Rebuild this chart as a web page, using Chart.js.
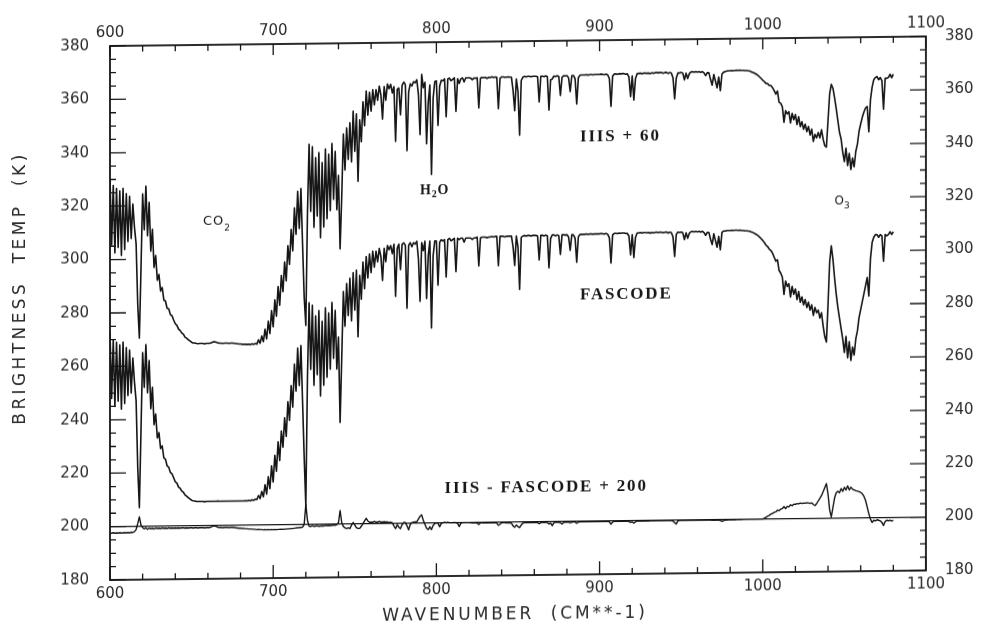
<!DOCTYPE html>
<html>
<head>
<meta charset="utf-8">
<title>Brightness temperature spectrum</title>
<script src="https://cdn.jsdelivr.net/npm/chart.js@4.4.1/dist/chart.umd.min.js"></script>
<style>
  html, body { margin: 0; padding: 0; background: #fff; }
  #spectrum { display: block; transform: skewY(-0.67deg); transform-origin: 110px 0; }
</style>
</head>
<body>
<canvas id="spectrum" width="985" height="627"></canvas>
<script>
// brightness temperature samples, 1 cm-1 apart, first sample at 600 cm-1
const firstWavenumber = 600;

// FASCODE calculated spectrum (K)
const fascode = [
  273, 248, 270, 245, 269, 247, 268, 244, 269, 246,            // 600
  267, 249, 266, 250, 263, 254, 247, 222, 207, 236,            // 610
  265, 252, 268, 250, 262, 244, 252, 238, 242, 233,            // 620
  235, 229, 230, 225.5, 225, 222.5, 222, 220, 219.5, 218,      // 630
  216.5, 216, 214.5, 214, 213, 212.5, 211.5, 211, 210.5, 210,  // 640
  209.5, 209.3, 209.2, 209, 209, 209, 209, 209, 208.9, 209,    // 650
  209, 209, 209, 209, 209, 209, 209.1, 209, 209, 209,          // 660
  209, 209, 209, 209, 209, 209, 209, 209, 209, 209,            // 670
  209, 209, 209, 209.1, 209, 209.2, 209, 209.4, 209.2, 209.6,  // 680
  209.5, 211, 209.8, 212.5, 210.5, 215, 211.5, 218, 213.5, 222, // 690
  216, 226, 220, 231, 224, 235, 229, 240, 233, 246,            // 700
  239, 252, 244, 260, 250, 266, 252, 267, 246, 225,            // 710
  207, 255, 283, 258, 282, 252, 278, 256, 280, 248,            // 720
  276, 252, 281, 255, 279, 258, 283, 262, 280, 258,            // 730
  270, 238, 262, 287, 274, 290, 278, 292, 276, 294,            // 740
  280, 295, 270, 293, 284, 298, 288, 300, 292, 301,            // 750
  294, 302, 296, 302, 298, 303, 300, 291, 303, 298,            // 760
  304, 302.5, 304, 301, 304.5, 285, 303, 304.5, 295, 304.5,    // 770
  305, 304, 280.5, 304, 305, 303.5, 305, 304.5, 305.5, 299,    // 780
  283, 305, 302, 305.5, 284, 300, 305.5, 273, 300, 305.5,      // 790
  305.5, 289, 305, 306, 305.5, 306, 292, 306, 306.5, 305.5,    // 800
  306, 306.5, 294, 306.5, 306, 306.5, 306.5, 305, 306.5, 306.5, // 810
  306.5, 306.5, 306, 306.5, 306.5, 306.8, 296, 306.5, 306.8, 306.8, // 820
  306.8, 306.5, 306.8, 306.8, 307, 306.8, 307, 307, 296, 307,  // 830
  307, 307, 306.8, 307, 307, 307, 307, 303, 296, 307,          // 840
  303, 287, 306.5, 307, 307.2, 307, 307.2, 307.2, 307, 307.2,  // 850
  307.2, 307.2, 307, 298, 307.2, 307.2, 307, 307.3, 307, 295,  // 860
  306, 307.3, 307.3, 307, 307.3, 307, 300, 307.3, 307.3, 307.2, // 870
  307.3, 306.5, 301.5, 307.3, 307.2, 306, 297, 306.5, 307.3, 307.4, // 880
  307.4, 307.4, 307.5, 307.3, 307.5, 307.5, 307.4, 307.5, 307.5, 307.5, // 890
  307.5, 307.6, 307.5, 307.4, 307.6, 307.3, 306, 296.5, 307, 307.6, // 900
  307.6, 307.5, 307.7, 307.6, 307.7, 307.7, 307.5, 307.6, 306.5, 299.5, // 910
  307, 298.5, 306, 307.6, 307.7, 307.8, 307.6, 307.8, 307.8, 307.7, // 920
  307.8, 307.5, 307.8, 307.6, 307.8, 307.9, 307.7, 307.9, 307.8, 307.6, // 930
  307.8, 307.9, 307.5, 307.8, 307.6, 306, 298.7, 307, 307.8, 307.6, // 940
  307.8, 307.5, 305, 307.5, 305.5, 307.3, 307.9, 308, 307.8, 308, // 950
  307.8, 308, 307.7, 308, 307.5, 306.5, 307.6, 307.5, 305, 303, // 960
  307, 304.5, 302, 306, 301, 307.5, 308, 308, 308.2, 308.2,    // 970
  308.2, 308.3, 308.2, 308.3, 308.3, 308.2, 308.3, 308.2, 308.1, 308, // 980
  308, 307.9, 307.8, 307.5, 307.3, 307, 306.6, 306.2, 305.6, 305, // 990
  304.3, 303.5, 302.5, 302, 301, 300.5, 299.5, 298, 296.5, 297, // 1000
  293, 292, 290.5, 284, 289, 287, 288, 283, 287, 284,          // 1010
  286, 282, 285, 281, 283, 280, 282, 279, 281, 278,            // 1020
  280, 276, 279, 277, 278, 275, 277, 272, 268, 266,            // 1030
  280, 296, 302, 297, 290, 284, 279, 275, 271, 267,            // 1040
  262, 268, 260, 266, 259, 264, 261, 267, 270, 275,            // 1050
  278, 281, 284, 287, 290, 283, 297, 303, 305, 306,            // 1060
  306, 305, 306, 305.5, 296, 306, 305.5, 306, 307, 306, 307    // 1070-1080
];

// HIS minus FASCODE (K), same grid
const hisMinusFascode = [
  -2.5, -2.5, -2.3, -2.5, -2.4, -2.5, -2.3, -2.5, -2.4, -2.3,  // 600
  -2.4, -2.3, -2.4, -2.2, -2.3, -2, -1.2, 1, 3.5, 0.5,         // 610
  -0.5, -1, -0.6, -1.2, -0.7, -1, -0.8, -1.1, -0.7, -0.9,      // 620
  -0.8, -1, -0.7, -0.9, -0.8, -1, -0.7, -0.9, -0.8, -0.9,      // 630
  -0.8, -0.9, -0.8, -0.9, -0.8, -0.8, -0.9, -0.8, -0.9, -0.8,  // 640
  -0.8, -0.9, -0.8, -0.8, -0.9, -0.8, -0.8, -0.8, -0.9, -0.8,  // 650
  -0.8, -0.8, -0.6, -0.3, -0.2, -0.4, -0.7, -0.8, -0.8, -0.9,  // 660
  -0.8, -0.8, -0.8, -0.9, -0.8, -0.8, -0.9, -1, -1.1, -1.2,    // 670
  -1.2, -1.3, -1.3, -1.4, -1.4, -1.5, -1.5, -1.6, -1.6, -1.7,  // 680
  -1.8, -1.7, -1.8, -1.8, -1.9, -1.8, -1.9, -1.8, -1.9, -1.8,  // 690
  -1.9, -1.8, -1.9, -1.8, -1.8, -1.7, -1.8, -1.7, -1.7, -1.6,  // 700
  -1.6, -1.5, -1.5, -1.4, -1.3, -1.3, -1.2, -1.2, -1, 0,       // 710
  7.5, 1.5, -0.7, -0.8, -0.6, -0.8, -0.7, -0.6, -0.8, -0.7,    // 720
  -0.6, -0.7, -0.5, -0.6, -0.5, -0.6, -0.5, -0.4, -0.5, -0.3,  // 730
  0.5, 5, 0.5, -1, -1.5, -1.8, -1.5, -1.8, -0.5, 0.5,          // 740
  -0.5, -1.5, -1.8, -1.8, -1, 0, 1, 2, 1, 0.5,                 // 750
  0.5, 0.5, 0.8, 0.5, 0.5, 0.8, 0.5, 0.5, 0.6, 0.5,            // 760
  0.5, 0.3, 0.4, 0.2, -1, -2, -0.5, -1.5, -2, -0.5,            // 770
  0.2, 0.2, -1, -2.5, -0.5, 0.2, 0.3, 0.4, 0.5, 1.5,           // 780
  2.5, 3, 1, -0.5, -2, -2.5, -1.5, -2.5, -1, -0.3,             // 790
  0, -0.2, -1.5, -0.3, 0, 0.2, 0, 0.2, 0, 0,                   // 800
  0, 0.1, 0, -0.3, -1.5, -0.3, 0, 0, 0, 0,                     // 810
  0, -0.1, -0.2, -0.1, -0.2, -0.3, -0.8, -0.2, -0.2, -0.3,     // 820
  -0.2, -0.3, -0.2, -0.3, -0.2, -0.3, -0.3, -0.4, -1.2, -0.8,  // 830
  -0.3, -0.3, -0.3, -0.4, -0.3, -0.4, -0.5, -1.5, -2, -1.2,    // 840
  -1.8, -2.2, -1.2, -0.5, -0.4, -0.4, -0.4, -0.4, -0.4, -0.4,  // 850
  -0.4, -0.4, -0.4, -0.8, -0.4, -0.4, -0.4, -0.4, -0.4, -0.9,  // 860
  -0.6, -1.6, -0.5, -0.4, -0.4, -0.4, -0.5, -1, -0.4, -0.4,    // 870
  -0.4, -0.4, -0.6, -0.4, -0.3, -0.3, -0.8, -0.4, -0.3, -0.3,  // 880
  -0.3, -0.3, -0.3, -0.3, -0.3, -0.3, -0.3, -0.3, -0.3, -0.3,  // 890
  -0.3, -0.3, -0.3, -0.3, -0.3, -0.3, -0.4, -1.3, -0.5, -0.3,  // 900
  -0.3, -0.3, -0.3, -0.3, -0.3, -0.3, -0.3, -0.3, -0.4, -0.7,  // 910
  -0.5, -1, -0.5, -0.3, -0.3, -0.3, -0.3, -0.3, -0.3, -0.3,    // 920
  -0.3, -0.2, -0.2, -0.2, -0.2, -0.2, -0.2, -0.2, -0.2, -0.2,  // 930
  -0.2, -0.2, -0.2, -0.2, -0.2, -0.4, -1, -1.5, -0.4, -0.2,    // 940
  -0.2, -0.2, -0.2, -0.2, -0.2, -0.2, -0.2, -0.2, -0.2, -0.2,  // 950
  -0.2, -0.2, -0.2, -0.2, -0.2, -0.2, -0.2, -0.2, -0.2, -0.3,  // 960
  -0.3, -0.3, -0.3, -0.3, -0.4, -0.7, -0.5, -0.3, -0.3, -0.2,  // 970
  -0.2, -0.2, -0.2, -0.2, -0.1, -0.1, -0.1, -0.1, 0, 0,        // 980
  0, 0, 0, 0, 0, 0, 0, 0, 0, 0,                                // 990
  0, 0.3, 0.6, 1, 1.3, 1.8, 2, 2.4, 2.6, 3.2,                  // 1000
  3, 3.6, 3.8, 4.5, 3.8, 4.6, 4.4, 5.2, 4.8, 5.4,              // 1010
  5.3, 5.6, 5.5, 5.8, 5.6, 5.8, 5.7, 5.9, 5.8, 5.6,            // 1020
  5.8, 5.2, 4.8, 5.5, 6.5, 7.5, 8.5, 10, 11.5, 13,             // 1030
  9, 3, 0.5, 4, 7.5, 9.5, 10, 9.5, 11, 10,                     // 1040
  11.5, 10.5, 12, 10.5, 11.5, 10.8, 10.5, 10.2, 10, 9.8,       // 1050
  9.5, 9, 8, 6.5, 4, 1.5, -0.5, -1.8, -1, -1.2,                // 1060
  -0.8, -1, -1.2, -1.8, -3, -1.5, -1, -1.2, -1, -1.3, -1       // 1070-1080
];

// offsets named in the curve labels
const hisOffset = 60;
const diffOffset = 200;

// zero-difference reference line
const zeroLineWavenumbers = [600, 1100];
const zeroLineKelvin = [200, 200];

const xTickValues = [600, 700, 800, 900, 1000, 1100];
const yTickValues = [180, 200, 220, 240, 260, 280, 300, 320, 340, 360, 380];

const ink = '#161616';
const tickFont = { family: 'DejaVu Sans', size: 15 };
const labelSerif = 'bold 17px "Liberation Serif"';

// text drawn inside the plot, anchored at [wavenumber, kelvin]
const notes = [
  { at: [888, 344], parts: [['IIIS + 60']], font: labelSerif, spacing: '1.8px' },
  { at: [888, 284.7], parts: [['FASCODE']], font: labelSerif, spacing: '1.8px' },
  { at: [805, 212.6], parts: [['IIIS - FASCODE + 200']], font: labelSerif, spacing: '1.8px' },
  { at: [657, 314], parts: [['CO'], ['2', 7]], font: '13px "DejaVu Sans"', sub: '9px "DejaVu Sans"', spacing: '1px' },
  { at: [790, 324.5], parts: [['H'], ['2', 4.5], ['O']], font: 'bold 14px "Liberation Serif"', sub: 'bold 10px "Liberation Serif"', spacing: '0.8px' },
  { at: [1044, 318.8], parts: [['O'], ['3', 5]], font: '12px "DejaVu Sans"', sub: '9px "DejaVu Sans"', spacing: '0px' }
];

const wavenumber = fascode.map((_, i) => firstWavenumber + i);

const hisCurve = fascode.map((t, i) => ({ x: wavenumber[i], y: t + hisMinusFascode[i] + hisOffset }));
const fascodeCurve = fascode.map((t, i) => ({ x: wavenumber[i], y: t }));
const diffCurve = hisMinusFascode.map((d, i) => ({ x: wavenumber[i], y: d + diffOffset }));
const zeroLine = zeroLineWavenumbers.map((w, i) => ({ x: w, y: zeroLineKelvin[i] }));

function trace(label, data, width) {
  return {
    label, data,
    borderColor: ink, borderWidth: width,
    borderJoinStyle: 'round',
    pointRadius: 0, fill: false, tension: 0
  };
}

// inward tick marks, frame, in-plot labels and axis titles
const plotFrame = {
  id: 'plotFrame',
  afterDraw(chart) {
    const { ctx, chartArea: a } = chart;
    const x = chart.scales.x, y = chart.scales.y;
    ctx.save();
    ctx.strokeStyle = ink;
    ctx.lineWidth = 1.3;
    ctx.beginPath();
    for (let v = 600; v <= 1100; v += 20) {
      const px = x.getPixelForValue(v);
      const major = v % 100 === 0;
      ctx.moveTo(px, a.bottom); ctx.lineTo(px, a.bottom - (major ? 13 : 6));
      ctx.moveTo(px, a.top); ctx.lineTo(px, a.top + (major ? 11 : 6));
    }
    for (let v = 180; v <= 380; v += 5) {
      const py = y.getPixelForValue(v);
      const major = v % 20 === 0;
      ctx.moveTo(a.left, py); ctx.lineTo(a.left + (major ? 16 : 6), py);
      ctx.moveTo(a.right, py); ctx.lineTo(a.right - (major ? 16 : 6), py);
    }
    ctx.stroke();
    ctx.lineWidth = 1.8;
    ctx.strokeRect(a.left, a.top, a.right - a.left, a.bottom - a.top);

    ctx.fillStyle = ink;
    ctx.textAlign = 'left';
    ctx.textBaseline = 'middle';
    for (const n of notes) {
      let cx = x.getPixelForValue(n.at[0]);
      const cy = y.getPixelForValue(n.at[1]);
      for (const [txt, drop] of n.parts) {
        ctx.font = drop ? n.sub : n.font;
        ctx.letterSpacing = n.spacing;
        ctx.fillText(txt, cx, drop ? cy + drop : cy);
        cx += ctx.measureText(txt).width;
      }
    }

    ctx.fillStyle = '#2a2a2a';
    ctx.font = '17px "DejaVu Sans"';
    ctx.textAlign = 'center';
    ctx.letterSpacing = '2.9px';
    ctx.fillText('WAVENUMBER  (CM**-1)', 515, 620);
    ctx.translate(21, 287);
    ctx.rotate(-Math.PI / 2);
    ctx.letterSpacing = '3.4px';
    ctx.fillText('BRIGHTNESS  TEMP  (K)', 0, 0);
    ctx.restore();
  }
};

function axis(position, min, max, values, padding, fit) {
  return {
    type: 'linear', position, min, max,
    afterBuildTicks(s) { s.ticks = values.map(v => ({ value: v })); },
    afterFit: fit,
    ticks: {
      font: tickFont, color: '#2a2a2a', padding, autoSkip: false, maxRotation: 0,
      callback: v => String(v)
    },
    grid: { display: false, drawTicks: false },
    border: { display: false }
  };
}

new Chart(document.getElementById('spectrum'), {
  type: 'line',
  data: {
    datasets: [
      trace('IIIS + 60', hisCurve, 1.6),
      trace('FASCODE', fascodeCurve, 1.6),
      trace('IIIS - FASCODE + 200', diffCurve, 1.4),
      trace('zero', zeroLine, 1.3)
    ]
  },
  options: {
    responsive: false,
    animation: false,
    parsing: false,
    normalized: true,
    layout: { padding: 0 },
    plugins: { legend: { display: false }, tooltip: { enabled: false } },
    scales: {
      x: axis('bottom', 600, 1100, xTickValues, 5, s => { s.height = 47; }),
      xTop: axis('top', 600, 1100, xTickValues, 4, s => { s.height = 46; }),
      y: axis('left', 180, 380, yTickValues, 21, s => { s.width = 110; }),
      yRight: axis('right', 180, 380, yTickValues, 19, s => { s.width = 59; })
    }
  },
  plugins: [plotFrame]
});
</script>
</body>
</html>
